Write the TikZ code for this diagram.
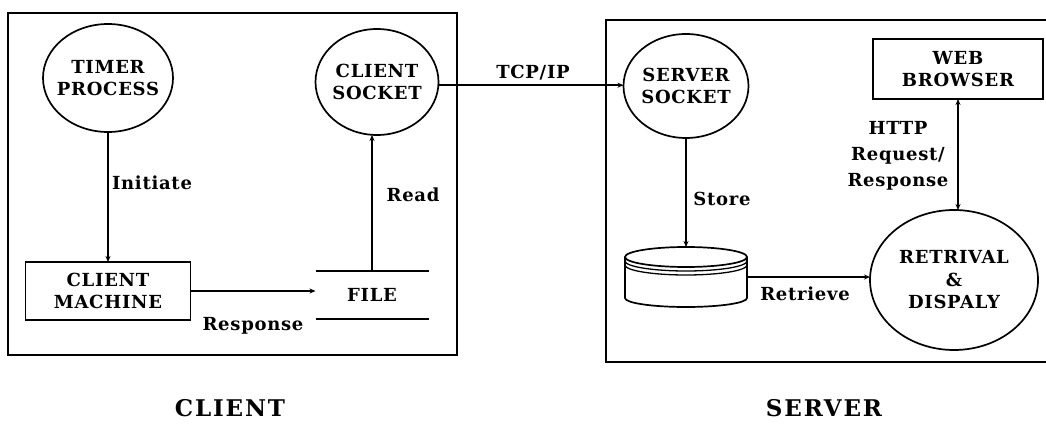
\documentclass[tikz,border=0pt]{standalone}
\usepackage{fontspec}
\setmainfont{DejaVu Serif}
\newfontfamily\lblfont{DejaVu Serif}[LetterSpace=4]
\newfontfamily\capfont{DejaVu Serif}[LetterSpace=8]
\usetikzlibrary{arrows.meta,shapes.geometric}

\begin{document}
\begin{tikzpicture}[x=1pt,y=-1pt,
  every node/.style={inner sep=0pt, outer sep=0pt},
  txt/.style={font=\lblfont\bfseries\fontsize{18}{22.5}\selectfont, align=center},
  bubble/.style={ellipse, draw, line width=1.7pt},
  box/.style={rectangle, draw, line width=1.7pt, txt},
  arr/.style={line width=1.7pt, -{Stealth[length=6pt,width=5pt]}},
  biarr/.style={line width=1.7pt, {Stealth[length=6pt,width=5pt]}-{Stealth[length=6pt,width=5pt]}},
  frame/.style={line width=1.7pt},
  title/.style={font=\capfont\bfseries\fontsize{23}{28}\selectfont}]

\useasboundingbox (0,0) rectangle (1046,427);
\fill[white] (0,0) rectangle (1046,427);

% ---------------- client side ----------------
\draw[frame] (8,13) rectangle (457,355);

\node[bubble, minimum width=130, minimum height=108] (tp) at (108,78) {};
\node[txt] (tpt) at (tp.center) {TIMER\\PROCESS};

\node[bubble, minimum width=123, minimum height=106] (cs) at (377,82) {};
\node[txt] (cst) at (cs.center) {CLIENT\\SOCKET};

\node[box, minimum width=165, minimum height=58] (cm) at (108,291) {CLIENT\\MACHINE};

\node[txt, minimum width=113, minimum height=48] (file) at (372,295) {FILE};
\draw[frame] (file.north west) -- (file.north east);
\draw[frame] (file.south west) -- (file.south east);

\draw[arr] (tp.south) -- (cm.north);
\draw[arr] (cm.east) -- (cm.east -| file.west);
\draw[arr] (file.north) -- (file.north |- cs.south);

\node[txt] (linit) at (152,183) {Initiate};
\node[txt] (lread) at (413,195) {Read};
\node[txt] (lresp) at (253,326) {Response};

% ---------------- link ----------------
\node[bubble, minimum width=125, minimum height=104] (ss) at (686,86) {};
\node[txt] (sst) at (ss.center) {SERVER\\SOCKET};

\draw[arr] (cs.-3) -- (cs.-3 -| ss.west);
\node[txt] (ltcp) at (533,73) {TCP/IP};

% ---------------- server side ----------------
\begin{scope}
  \clip (0,0) rectangle (1046,427);
  \draw[frame] (606,20) rectangle (1056,362);
\end{scope}

\node[box, minimum width=170, minimum height=60] (wb) at (958,69) {WEB\\BROWSER};

\node[bubble, minimum width=168, minimum height=140] (rd) at (954,280) {};
\node[txt] (rdt) at (rd.center) {RETRIVAL\\\&\\DISPALY};

% data store drawn as a stacked cylinder
\node[minimum width=122, minimum height=60] (db) at (686,277) {};
\draw[frame] (686,257) ellipse [x radius=61, y radius=10];
\foreach \dy in {4,8} {
  \draw[line width=1.3pt] (625,257+\dy) .. controls (625,257+\dy+5.5) and (652.3,267+\dy) .. (686,267+\dy)
                 .. controls (719.7,267+\dy) and (747,257+\dy+5.5) .. (747,257+\dy);
}
\draw[frame] (625,257) -- (625,298)
  .. controls (625,303) and (652.3,307) .. (686,307)
  .. controls (719.7,307) and (747,303) .. (747,298) -- (747,257);

\draw[arr] (ss.south) -- (db.north);
\draw[arr] (db.east) -- (db.east -| rd.west);
\draw[biarr] (wb.south) -- (wb.south |- rd.north);

\node[txt] (lstore) at (722,199) {Store};
\node[txt] (lretr) at (805,294) {Retrieve};
\node[txt, font=\lblfont\bfseries\fontsize{18}{26}\selectfont] (lhttp) at (898,156) {HTTP\\Request/\\Response};

% ---------------- captions ----------------
\node[title] (lclient) at (230,408) {CLIENT};
\node[title] (lserver) at (824,408) {SERVER};
\end{tikzpicture}
\end{document}
